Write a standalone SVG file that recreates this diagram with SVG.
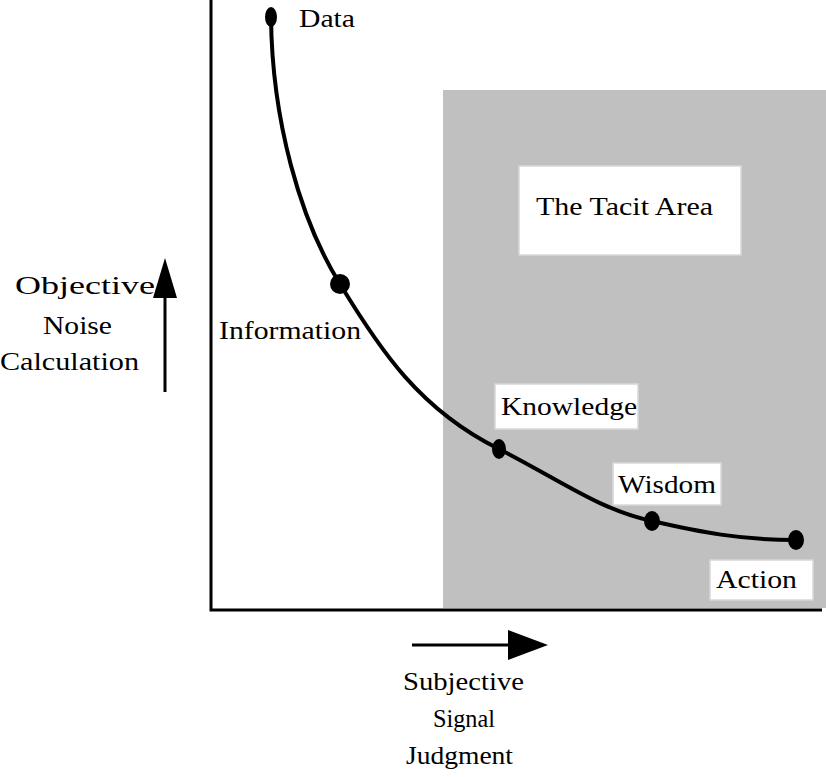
<svg xmlns="http://www.w3.org/2000/svg" width="826" height="777" viewBox="0 0 826 777">
<style>
text{font-family:"Liberation Serif","DejaVu Serif",serif;font-size:26px;fill:#000}
.lb{fill:#fff;stroke:#d8d8d8;stroke-width:1.5}
.dot{fill:#000}
</style>
<rect width="826" height="777" fill="#fff"/>
<rect x="443" y="90" width="383" height="518" fill="#c0c0c0"/>
<g id="axes" stroke="#000" stroke-width="3" fill="none">
<path d="M211,0 V610 H822"/>
</g>
<g id="connectors">
<line x1="165" y1="392" x2="165" y2="290" stroke="#000" stroke-width="3"/>
<path d="M153,298 L165,258 L177,298 Z"/>
<line x1="412" y1="645" x2="515" y2="645" stroke="#000" stroke-width="3"/>
<path d="M508,630 L548,645 L508,660 Z"/>
<path d="M271,17 C272,120 300,220 340,284 C380,350 420,410 499,449 C560,480 600,510 652,521 C700,532 740,540 796,540" fill="none" stroke="#000" stroke-width="4"/>
</g>
<g id="tacit"><rect class="lb" x="519" y="166" width="222" height="89"/><text x="536" y="215" textLength="177" lengthAdjust="spacingAndGlyphs">The Tacit Area</text></g>
<g id="data"><ellipse class="dot" cx="271" cy="17" rx="6" ry="10"/><text x="299" y="27" textLength="56" lengthAdjust="spacingAndGlyphs">Data</text></g>
<g id="information"><ellipse class="dot" cx="340" cy="284" rx="10" ry="10"/><text x="219" y="339" textLength="142" lengthAdjust="spacingAndGlyphs">Information</text></g>
<g id="knowledge"><ellipse class="dot" cx="499" cy="449" rx="7" ry="10"/><rect class="lb" x="495" y="384" width="143" height="45"/><text x="501" y="415" textLength="136" lengthAdjust="spacingAndGlyphs">Knowledge</text></g>
<g id="wisdom"><ellipse class="dot" cx="652" cy="521" rx="8" ry="10"/><rect class="lb" x="613" y="463" width="108" height="42"/><text x="618" y="493" textLength="98" lengthAdjust="spacingAndGlyphs">Wisdom</text></g>
<g id="action"><ellipse class="dot" cx="796" cy="540" rx="8" ry="10"/><rect class="lb" x="710" y="560" width="103" height="40"/><text x="716" y="588" textLength="81" lengthAdjust="spacingAndGlyphs">Action</text></g>
<g id="ylabel"><text x="15" y="294" textLength="140" lengthAdjust="spacingAndGlyphs">Objective</text><text x="43" y="334" textLength="69" lengthAdjust="spacingAndGlyphs">Noise</text><text x="0" y="370" textLength="139" lengthAdjust="spacingAndGlyphs">Calculation</text></g>
<g id="xlabel"><text x="403" y="690" textLength="121" lengthAdjust="spacingAndGlyphs">Subjective</text><text x="433" y="727" textLength="62" lengthAdjust="spacingAndGlyphs">Signal</text><text x="406" y="764" textLength="107" lengthAdjust="spacingAndGlyphs">Judgment</text></g>
</svg>
